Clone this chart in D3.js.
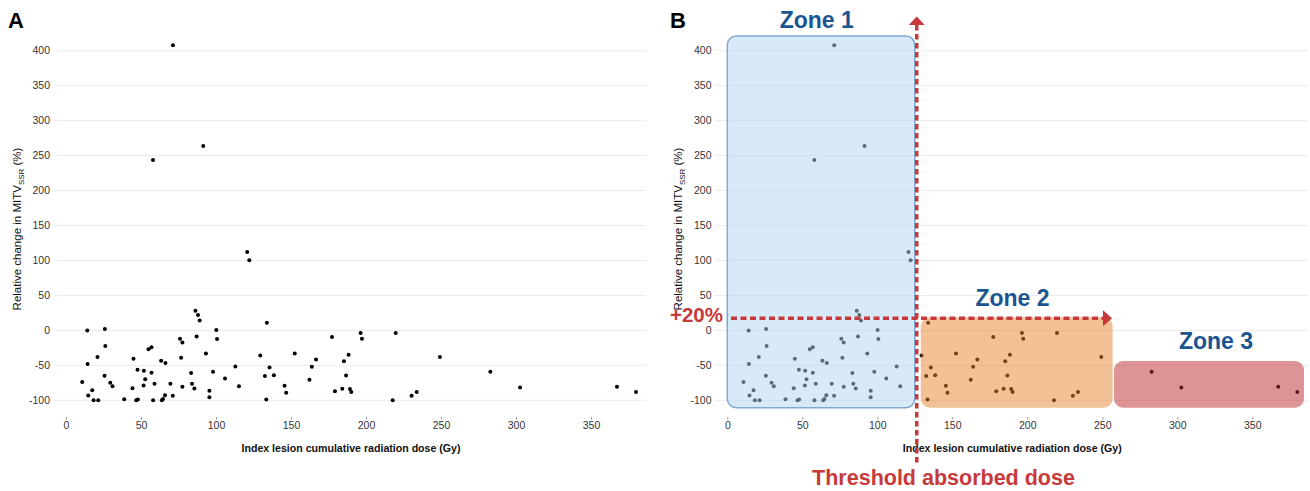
<!DOCTYPE html>
<html>
<head>
<meta charset="utf-8">
<script src="https://cdn.jsdelivr.net/npm/d3@7"></script>
<style>
  html, body { margin: 0; padding: 0; background: #fff; }
  svg { display: block; font-family: "Liberation Sans", Arial, sans-serif; }
</style>
</head>
<body>
<svg id="chart" width="1310" height="491"></svg>
<script>
// ---- data ----
const doseGy = [
  10.8, 14.2, 14.4, 14.8, 17.5, 18.4, 21.5, 21.0, 25.9, 26.2, 25.7, 29.5, 31.0, 38.8, 44.3,
  45.0, 46.8, 47.9, 47.7, 51.9, 52.8, 51.7, 55.0, 57.0, 57.0, 58.1, 59.0, 63.4, 66.3, 63.9,
  64.7, 66.0, 69.6, 71.2, 76.0, 77.6, 76.7, 77.6, 83.4, 84.0, 85.6, 86.3, 88.0, 89.1, 87.1,
  93.3, 95.6, 95.6, 98.0, 100.2, 100.7, 106.0, 112.9, 115.3, 120.8, 122.2, 129.5, 133.9, 132.6,
  135.7, 138.6, 133.5, 145.7, 146.8, 152.5, 162.3, 163.9, 166.7, 177.3, 179.3, 184.2, 185.3,
  186.7, 188.4, 189.3, 190.2, 196.4, 197.3, 217.8, 219.8, 230.4, 233.8, 249.3, 282.9, 302.7,
  367.3, 380.0, 71.3, 58.0, 91.5
];
const changePct = [
  -74, 0, -48, -93, -85.5, -100, -100, -38, 2, -22.5, -65, -75, -80, -98.4, -82.6,
  -40.6, -100, -99, -56.4, -57.8, -70, -79, -27, -24, -60.6, -100, -76.4, -43.5, -46.8, -100,
  -98, -92.6, -76.4, -93.6, -12, -17.2, -39, -80.7, -61, -76.4, -83, 28.2, 22, 14.3, -8.6,
  -33, -86.4, -95.5, -59.2, 0.5, -12.4, -69, -51.6, -80, 112, 100.3, -36, 11, -65.4,
  -53, -64, -99, -79.3, -89.3, -33, -70.7, -52, -41.5, -9.6, -87, -83.6, -44,
  -64.5, -35, -84, -88, -3.8, -12, -100, -3.8, -93.6, -88.3, -38.2, -59.2, -81.7,
  -80.7, -88.3, 407.9, 243.8, 263.8
];
const xTicks = [0, 50, 100, 150, 200, 250, 300, 350];
const yTicks = [-100, -50, 0, 50, 100, 150, 200, 250, 300, 350, 400];

// zone annotations (panel B), in data units
const zoneNames = ["Zone 1", "Zone 2", "Zone 3"];
const zoneX0 = [0, 129, 257.8];
const zoneX1 = [125, 256.9, 384.5];
const zoneYTop = [421, 18.7, -43.8];
const zoneYBottom = [-110.6, -110.6, -110.6];
const thresholdDose = 126.3;
const thresholdChange = 17.5;

// ---- layout ----
const svg = d3.select("#chart");
const font = '"Liberation Sans", Arial, sans-serif';
const y = d3.scaleLinear().domain([-100, 400]).range([400.3, 50.7]);

const panels = [
  { label: "A", x0: 66, gridL: 55, gridR: 646, labelX: 8, yTickX: 50, yTitleX: 21 },
  { label: "B", x0: 727.3, gridL: 715, gridR: 1308, labelX: 670, yTickX: 711.5, yTitleX: 682 }
];

panels.forEach((p, pi) => {
  const x = d3.scaleLinear().domain([0, 350]).range([p.x0, p.x0 + 525]);
  p.x = x;
  const g = svg.append("g");

  // gridlines
  g.selectAll("line.grid").data(yTicks).join("line")
    .attr("x1", p.gridL).attr("x2", p.gridR)
    .attr("y1", d => y(d)).attr("y2", d => y(d))
    .attr("stroke", "#ebebeb").attr("stroke-width", 1);

  // y tick labels
  g.selectAll("text.yt").data(yTicks).join("text")
    .attr("x", p.yTickX).attr("y", d => y(d)).attr("dy", "0.35em")
    .attr("text-anchor", "end").attr("font-size", 10.5).attr("fill", "#333")
    .text(d => d);

  // x axis ticks + labels
  const xAxis = d3.axisBottom(x).tickValues(xTicks).tickSize(2.5).tickPadding(2);
  const ax = g.append("g").attr("transform", "translate(0,417)").call(xAxis);
  ax.select(".domain").remove();
  ax.selectAll(".tick line").attr("stroke", "#999");
  ax.selectAll(".tick text").attr("font-size", 10.5).attr("fill", "#333").attr("font-family", font);

  // axis titles
  g.append("text")
    .attr("x", x(190)).attr("y", 452)
    .attr("text-anchor", "middle").attr("font-size", 10.6).attr("font-weight", "bold").attr("fill", "#111")
    .text("Index lesion cumulative radiation dose (Gy)");

  const yt = g.append("text")
    .attr("transform", `translate(${p.yTitleX},${y(145)}) rotate(-90)`)
    .attr("text-anchor", "middle").attr("font-size", 11.5).attr("fill", "#111");
  yt.append("tspan").text("Relative change in MITV");
  yt.append("tspan").attr("font-size", 8).attr("dy", 2.5).text("SSR");
  yt.append("tspan").attr("dy", -2.5).text("  (%)");

  // points
  g.selectAll("circle.pt").data(doseGy).join("circle")
    .attr("cx", d => x(d)).attr("cy", (d, i) => y(changePct[i]))
    .attr("r", 2).attr("fill", "#000");

  // panel label
  svg.append("text").attr("x", p.labelX).attr("y", 28.3)
    .attr("font-size", 22).attr("font-weight", "bold").attr("fill", "#000").text(p.label);
});

// ---- panel B annotations ----
const xB = panels[1].x;
const zoneFill = ["rgb(178,212,240)", "rgb(230,132,46)", "rgb(186,42,46)"];
const zoneStroke = ["#80a9d2", "none", "none"];
const zoneLabelX = [816.7, 1012.5, 1216];
const zoneLabelY = [28.3, 306, 349.3];
const ann = svg.append("g");

zoneNames.forEach((n, i) => {
  ann.append("rect")
    .attr("x", xB(zoneX0[i])).attr("y", y(zoneYTop[i]))
    .attr("width", xB(zoneX1[i]) - xB(zoneX0[i]))
    .attr("height", y(zoneYBottom[i]) - y(zoneYTop[i]))
    .attr("rx", 9).attr("ry", 9)
    .attr("fill", zoneFill[i]).attr("fill-opacity", 0.5)
    .attr("stroke", zoneStroke[i]).attr("stroke-width", 1.5);
  ann.append("text")
    .attr("x", zoneLabelX[i]).attr("y", zoneLabelY[i])
    .attr("text-anchor", "middle").attr("font-size", 23).attr("font-weight", "bold")
    .attr("fill", "#1a5592").text(n);
});

const red = "#c8393a";
// vertical threshold dashed line with arrow
const vx = xB(thresholdDose);
ann.append("line").attr("x1", vx).attr("x2", vx).attr("y1", 25).attr("y2", 463)
  .attr("stroke", red).attr("stroke-width", 3.5).attr("stroke-dasharray", "5.5,3.5");
ann.append("path")
  .attr("d", `M${vx - 8},25 L${vx},16.5 L${vx + 8},25 Z`).attr("fill", red);

// horizontal +20% dashed line with arrow
const hy = y(thresholdChange);
ann.append("line").attr("x1", 731).attr("x2", 1104).attr("y1", hy).attr("y2", hy)
  .attr("stroke", red).attr("stroke-width", 3.5).attr("stroke-dasharray", "6,3.5");
ann.append("path")
  .attr("d", `M1103,${hy - 8} L1112,${hy} L1103,${hy + 8} Z`).attr("fill", red);

ann.append("text").attr("x", 723).attr("y", 321.5).attr("text-anchor", "end")
  .attr("font-size", 20.5).attr("font-weight", "bold").attr("fill", red).text("+20%");
ann.append("text").attr("x", 943.5).attr("y", 485).attr("text-anchor", "middle")
  .attr("font-size", 21.5).attr("font-weight", "bold").attr("fill", red).text("Threshold absorbed dose");
</script>
</body>
</html>
